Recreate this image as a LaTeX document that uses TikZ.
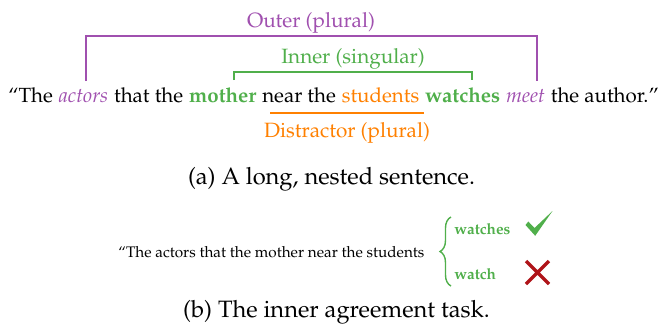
\documentclass[tikz,border=0pt]{standalone}
\usepackage[T1]{fontenc}
\renewcommand{\rmdefault}{ppl}
\usetikzlibrary{decorations.pathreplacing,calc}
\definecolor{cpurple}{RGB}{160,80,175}
\definecolor{cgreen}{RGB}{80,175,75}
\definecolor{corange}{RGB}{255,128,0}
\definecolor{cred}{RGB}{175,20,25}
\newlength\tmpw
\newlength\spA
\newlength\spB
\newcommand\fitsize[3]{\settowidth\tmpw{\fontsize{10}{12}\selectfont #2}\pgfmathsetmacro#3{10*#1/\tmpw}}
\newcommand\SentA{``The \textit{actors} that the \textbf{mother} near the students \textbf{watches} \textit{meet} the author.''}
\newcommand\fontA{\fontsize{\fsA}{\fsA}\selectfont}
\newcommand\fontB{\fontsize{\fsB}{\fsB}\selectfont}
\newcommand\fontL{\fontsize{\fsL}{\fsL}\selectfont}
\newcommand\fontC{\fontsize{\fsC}{\fsC}\selectfont}
\begin{document}
\fitsize{322}{\SentA}{\fsA}%
\fitsize{153}{``The actors that the mother near the students}{\fsB}%
\fitsize{64}{Outer (plural)}{\fsL}%
\fitsize{143.5}{(a) A long, nested sentence.}{\fsC}%
\settowidth\spA{\fontA\ }%
\settowidth\spB{\fontB\ }%
\begin{tikzpicture}[x=0.5pt,y=-0.5pt,
  word/.style={inner sep=0pt, anchor=base west, font=\fontA},
  lbl/.style={inner sep=0pt, anchor=base, font=\fontL},
  captxt/.style={inner sep=0pt, anchor=base, font=\fontC},
  wordb/.style={inner sep=0pt, anchor=base west, font=\fontB},
  bracket/.style={line width=1pt},
]
\useasboundingbox (0,0) rectangle (660,327);
% sentence (a)
\node[word] (w1) at (8,102) {``The};
\node[word, text=cpurple] (actors) at ([xshift=\spA]w1.base east) {\textit{actors}};
\node[word] (w2) at ([xshift=\spA]actors.base east) {that the};
\node[word, text=cgreen] (mother) at ([xshift=\spA]w2.base east) {\textbf{mother}};
\node[word] (near) at ([xshift=\spA]mother.base east) {near the};
\node[word, text=corange] (students) at ([xshift=\spA]near.base east) {students};
\node[word, text=cgreen] (watches) at ([xshift=\spA]students.base east) {\textbf{watches}};
\node[word, text=cpurple] (meet) at ([xshift=\spA]watches.base east) {\textit{meet}};
\node[word] (w4) at ([xshift=\spA]meet.base east) {the author.''};
% outer bracket
\coordinate (oL) at (86,81);
\coordinate (oR) at (537,81);
\draw[bracket, cpurple] (oL) -- (86,36) -- (537,36) -- (oR);
\node[lbl, text=cpurple] (outer) at (311,27) {Outer (plural)};
% inner bracket
\coordinate (iL) at (234,80);
\coordinate (iR) at (472,80);
\draw[bracket, cgreen] (iL) -- (234,72) -- (472,72) -- (iR);
\node[lbl, text=cgreen] (inner) at (353,63) {Inner (singular)};
% distractor
\coordinate (dL) at (270,113);
\coordinate (dR) at (424,113);
\draw[line width=1.4pt, corange] (dL) -- (dR);
\node[lbl, text=corange] (distr) at (347,137) {Distractor (plural)};
% caption a
\node[captxt] (capa) at (331.5,184) {(a) A long, nested sentence.};
% sentence (b)
\node[wordb] (sb) at (118,257) {``The actors that the mother near the students};
\node[wordb, text=cgreen] (wb1) at (454,234) {\textbf{watches}};
\node[wordb, text=cgreen] (wb2) at (454,279) {\textbf{watch}};
\coordinate (brT) at (451,217);
\coordinate (brB) at (451,286);
\draw[cgreen, line width=0.7pt, decorate, decoration={brace, amplitude=5.5pt}] (brB) -- (brT);
% check mark
\fill[cgreen] (525.5,225) -- (528.3,221.5) -- (534.5,228) -- (552.5,211) -- (535.2,235.8) -- cycle;
% cross
\draw[cred, line width=1.7pt] (526,261) -- (549,284) (549,261) -- (526,284);
% caption b
\node[captxt] (capb) at (336.5,317) {(b) The inner agreement task.};
\end{tikzpicture}
\end{document}
